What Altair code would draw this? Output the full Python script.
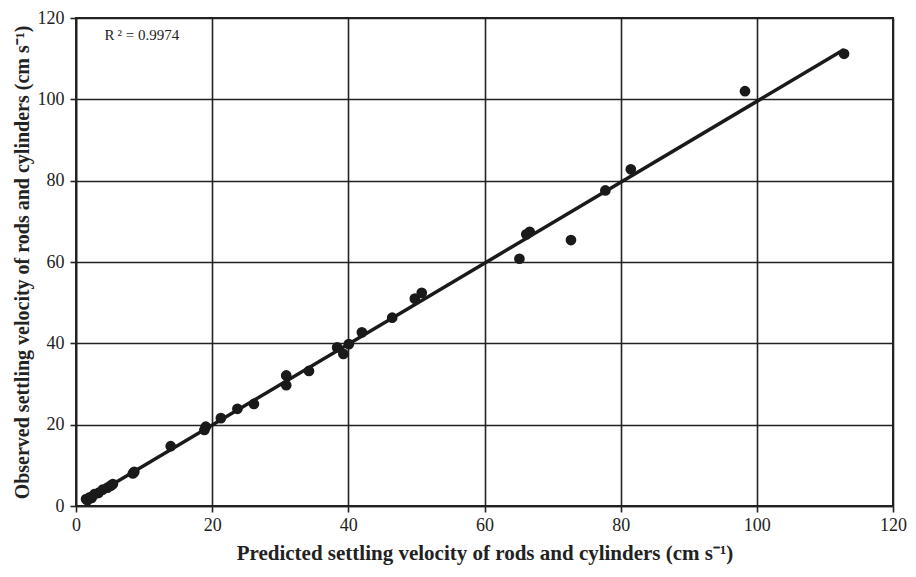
import altair as alt
import pandas as pd

predicted = [1.48, 1.69, 1.99, 2.29, 2.7, 3.3, 3.91, 4.62, 5.12, 5.42, 8.35, 8.56, 13.91,
             18.86, 19.06, 21.28, 23.71, 26.13, 30.88, 30.88, 34.22, 38.36, 39.27, 40.07,
             41.99, 46.44, 49.77, 50.78, 65.13, 66.14, 66.64, 72.7, 77.75, 81.49, 98.26, 112.81]
observed = [1.7, 1.4, 2.1, 2.0, 2.9, 3.2, 4.0, 4.5, 5.0, 5.4, 8.0, 8.4, 14.7,
            18.7, 19.5, 21.6, 23.9, 25.1, 32.1, 29.7, 33.2, 39.0, 37.4, 39.8,
            42.7, 46.3, 51.0, 52.4, 60.8, 66.8, 67.4, 65.4, 77.6, 82.8, 102.0, 111.2]

df = pd.DataFrame({"pred": predicted, "obs": observed})

FONT = "Liberation Serif"
ticks = [0, 20, 40, 60, 80, 100, 120]

x = alt.X("pred:Q", scale=alt.Scale(domain=[0, 120], nice=False),
          axis=alt.Axis(values=ticks, title="Predicted settling velocity of rods and cylinders (cm s\u207b\u00b9)",
                        titleFontWeight="bold", titleFontSize=21, titlePadding=8,
                        labelFontSize=18, labelPadding=4, labelFlush=False))
y = alt.Y("obs:Q", scale=alt.Scale(domain=[0, 120], nice=False),
          axis=alt.Axis(values=ticks, title="Observed settling velocity of rods and cylinders (cm s\u207b\u00b9)",
                        titleFontWeight="bold", titleFontSize=20, titlePadding=5,
                        labelFontSize=18, labelPadding=6, labelFlush=False))

base = alt.Chart(df)
pts = base.mark_circle(size=115, color="#1a1a1a", opacity=1).encode(x=x, y=y)
fit = base.transform_regression("pred", "obs").mark_line(color="#1a1a1a", strokeWidth=3.5).encode(
    x="pred:Q", y="obs:Q")

r2 = pd.DataFrame({"tx": [4.2], "ty": [115.9], "label": ["R\u2009\u00b2 = 0.9974"]})
txt = alt.Chart(r2).mark_text(align="left", baseline="middle", fontSize=15, font=FONT, color="#222").encode(
    x="tx:Q", y="ty:Q", text="label:N")

chart = alt.layer(pts, fit, txt).properties(
    width=817, height=488,
    autosize=alt.AutoSizeParams(type="none"),
    padding={"left": 68, "top": 10, "right": 15, "bottom": 63},
).configure(font=FONT).configure_axis(
    grid=True, gridColor="#222", gridWidth=1.6, domainColor="#222", domainWidth=1.6,
    tickColor="#222", tickSize=6, tickWidth=1.6, labelColor="#222", titleColor="#222",
    labelFont=FONT, titleFont=FONT
).configure_view(stroke="#222", strokeWidth=2)

chart.save("out.html", embed_options={"renderer": "svg", "actions": False})
